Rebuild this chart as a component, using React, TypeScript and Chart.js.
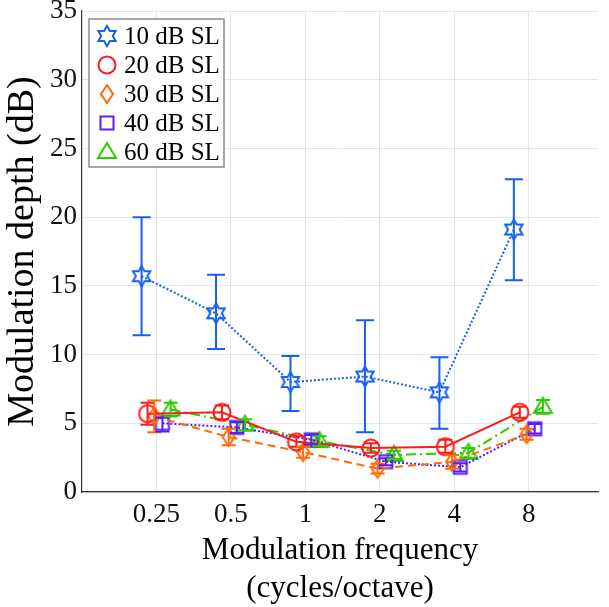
import React, { useEffect, useRef } from 'react';
import { Chart, registerables } from 'chart.js';
Chart.register(...registerables);

// ---- data ----
const freqLabels = ['0.25', '0.5', '1', '2', '4', '8'];
const seriesNames = ['10 dB SL', '20 dB SL', '30 dB SL', '40 dB SL', '60 dB SL'];

const sl10 = [15.7, 13.0, 8.0, 8.4, 7.25, 19.1];
const sl10Low = [11.4, 10.4, 5.9, 4.35, 4.6, 15.4];
const sl10High = [20.0, 15.8, 9.9, 12.5, 9.8, 22.75];

const sl20 = [5.7, 5.8, 3.65, 3.2, 3.3, 5.8];
const sl20Low = [4.9, 5.3, 3.3, 2.85, 2.85, 5.4];
const sl20High = [6.5, 6.3, 4.05, 3.55, 3.8, 6.2];

const sl30 = [5.5, 4.0, 2.9, 1.7, 2.2, 4.2];
const sl30Low = [4.35, 3.4, 2.5, 1.35, 1.7, 3.8];
const sl30High = [6.65, 4.6, 3.3, 2.05, 2.7, 4.6];

const sl40 = [5.0, 4.7, 3.8, 2.2, 1.8, 4.6];
const sl40Low = [4.4, 4.3, 3.45, 1.95, 1.5, 4.25];
const sl40High = [5.4, 5.1, 4.15, 2.45, 2.1, 4.95];

const sl60 = [6.0, 4.9, 3.7, 2.7, 2.85, 6.2];
const sl60Low = [5.5, 4.5, 3.35, 2.4, 2.5, 5.7];
const sl60High = [6.5, 5.3, 4.05, 3.0, 3.2, 6.7];

// ---- styles ----
const colors = ['#1560f0', '#ff1a1a', '#ff6a00', '#5a1aff', '#2ccc00'];
const dodge = [-0.2, -0.12, -0.03, 0.08, 0.19];
const dashes = [[2, 2], [], [8, 5], [2, 2], [10, 4, 2, 4]];
const capHalf = [9, 7, 7, 7, 7];
const FONT = '"Liberation Serif", "Times New Roman", serif';

function makeMarker(kind: string, color: string): HTMLCanvasElement {
  const c = document.createElement('canvas');
  c.width = 24;
  c.height = 24;
  const ctx = c.getContext('2d')!;
  ctx.strokeStyle = color;
  ctx.lineWidth = 2;
  ctx.lineJoin = 'miter';
  const cx = 12, cy = 12;
  ctx.beginPath();
  if (kind === 'hexagram') {
    const R = 10, r = R / Math.sqrt(3);
    for (let i = 0; i < 12; i++) {
      const a = -Math.PI / 2 + (i * Math.PI) / 6;
      const rad = i % 2 === 0 ? R : r;
      const px = cx + rad * Math.cos(a), py = cy + rad * Math.sin(a);
      if (i === 0) ctx.moveTo(px, py); else ctx.lineTo(px, py);
    }
    ctx.closePath();
  } else if (kind === 'circle') {
    ctx.arc(cx, cy, 8.5, 0, Math.PI * 2);
  } else if (kind === 'diamond') {
    ctx.moveTo(cx, cy - 9);
    ctx.lineTo(cx + 6, cy);
    ctx.lineTo(cx, cy + 9);
    ctx.lineTo(cx - 6, cy);
    ctx.closePath();
  } else if (kind === 'square') {
    ctx.rect(cx - 6.5, cy - 6.5, 13, 13);
  } else if (kind === 'triangle') {
    ctx.moveTo(cx, cy - 9);
    ctx.lineTo(cx + 9, cy + 6);
    ctx.lineTo(cx - 9, cy + 6);
    ctx.closePath();
  }
  ctx.stroke();
  return c;
}

const errorBarPlugin = {
  id: 'errorBars',
  afterDatasetsDraw(chart: any) {
    const { ctx, scales } = chart;
    const xs = scales.x, ys = scales.y;
    chart.data.datasets.forEach((ds: any, di: number) => {
      ctx.save();
      ctx.strokeStyle = ds.borderColor;
      ctx.lineWidth = 2;
      ctx.setLineDash([]);
      ds.data.forEach((p: any, i: number) => {
        const x = xs.getPixelForValue(p.x);
        const lo = ys.getPixelForValue(ds.lows[i]);
        const hi = ys.getPixelForValue(ds.highs[i]);
        const w = capHalf[di];
        ctx.beginPath();
        ctx.moveTo(x, lo); ctx.lineTo(x, hi);
        ctx.moveTo(x - w, lo); ctx.lineTo(x + w, lo);
        ctx.moveTo(x - w, hi); ctx.lineTo(x + w, hi);
        ctx.stroke();
      });
      ctx.restore();
    });
  },
};

const legendPlugin = {
  id: 'boxLegend',
  afterDraw(chart: any) {
    const { ctx, chartArea } = chart;
    const left = chartArea.left + 7;
    const top = chartArea.top + 8;
    const w = 135, h = 148;
    ctx.save();
    ctx.fillStyle = '#ffffff';
    ctx.fillRect(left, top, w, h);
    ctx.strokeStyle = '#8a8a8a';
    ctx.lineWidth = 1.5;
    ctx.strokeRect(left, top, w, h);
    ctx.font = `25px ${FONT}`;
    ctx.fillStyle = '#000';
    ctx.textBaseline = 'middle';
    ctx.textAlign = 'left';
    chart.data.datasets.forEach((ds: any, i: number) => {
      const y = top + 17 + i * 29;
      const img = ds.pointStyle as HTMLCanvasElement;
      ctx.drawImage(img, left + 18 - img.width / 2, y - img.height / 2);
      ctx.fillText(ds.label, left + 35, y + 1);
    });
    ctx.restore();
  },
};

export default function App() {
  const ref = useRef<HTMLCanvasElement>(null);
  useEffect(() => {
    const values = [sl10, sl20, sl30, sl40, sl60];
    const lows = [sl10Low, sl20Low, sl30Low, sl40Low, sl60Low];
    const highs = [sl10High, sl20High, sl30High, sl40High, sl60High];
    const kinds = ['hexagram', 'circle', 'diamond', 'square', 'triangle'];
    const datasets = values.map((vals, s) => ({
      label: seriesNames[s],
      data: vals.map((v, i) => ({ x: i + dodge[s], y: v })),
      lows: lows[s],
      highs: highs[s],
      borderColor: colors[s],
      backgroundColor: 'transparent',
      borderWidth: 2,
      borderDash: dashes[s],
      pointStyle: makeMarker(kinds[s], colors[s]),
      pointRadius: 9,
      tension: 0,
      fill: false,
    }));
    const chart = new Chart(ref.current!, {
      type: 'line',
      data: { datasets } as any,
      plugins: [errorBarPlugin, legendPlugin],
      options: {
        responsive: false,
        animation: false,
        layout: { padding: { top: 11, right: 8, left: 0, bottom: 0 } },
        plugins: { legend: { display: false }, tooltip: { enabled: false } },
        scales: {
          x: {
            type: 'linear',
            min: -1,
            max: 5.93,
            afterBuildTicks: (scale: any) => {
              scale.ticks = freqLabels.map((_, i) => ({ value: i }));
            },
            afterFit: (scale: any) => { scale.height = 115; },
            ticks: {
              callback: (v: any) => freqLabels[v] ?? '',
              font: { family: FONT, size: 27 },
              color: '#111',
              padding: 7,
              maxRotation: 0,
              autoSkip: false,
            },
            grid: { color: '#e2e6e9', lineWidth: 1, drawTicks: false },
            border: { display: true, color: '#333', width: 1.2 },
            title: {
              display: true,
              text: ['Modulation frequency', '(cycles/octave)'],
              font: { family: FONT, size: 31 },
              color: '#000',
              padding: { top: 0, bottom: 0 },
            },
          },
          y: {
            min: 0,
            max: 35,
            afterFit: (scale: any) => {
              scale.width = 82;
              scale.paddingTop = 0;
              scale.paddingBottom = 0;
            },
            ticks: {
              stepSize: 5,
              font: { family: FONT, size: 27 },
              color: '#111',
              padding: 5,
            },
            grid: { color: '#e2e6e9', lineWidth: 1, drawTicks: false },
            border: { display: true, color: '#333', width: 1.2 },
            title: {
              display: true,
              text: 'Modulation depth (dB)',
              font: { family: FONT, size: 38 },
              color: '#000',
              padding: { top: 0, bottom: 0 },
            },
          },
        },
      } as any,
    });
    return () => chart.destroy();
  }, []);
  return (
    <div style={{ position: 'fixed', left: 0, top: 0, width: 609, height: 607, background: '#fff' }}>
      <canvas ref={ref} width={609} height={607} style={{ display: 'block' }} />
    </div>
  );
}
